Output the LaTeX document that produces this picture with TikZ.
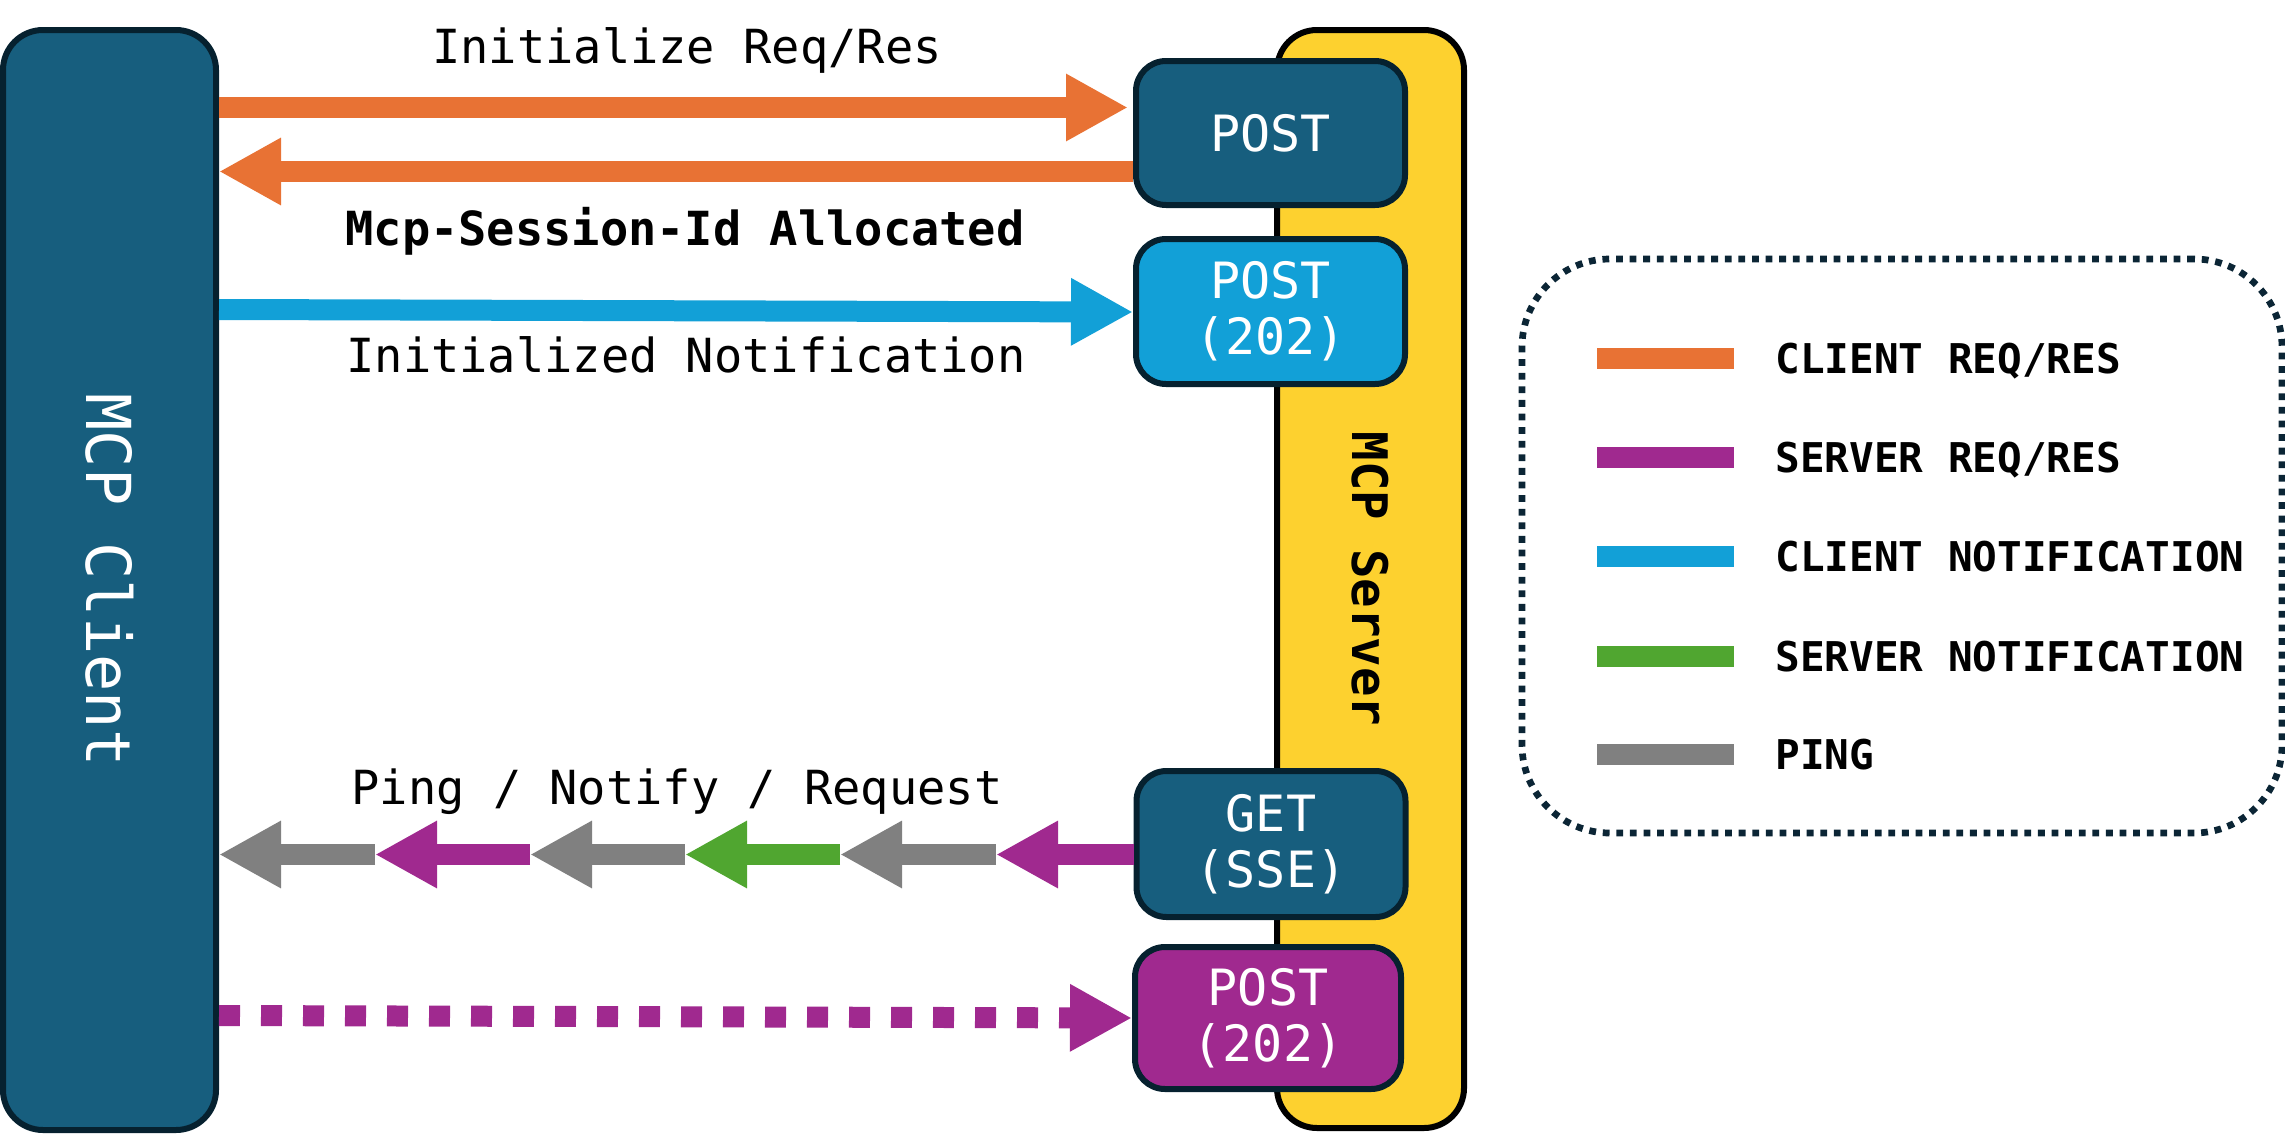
\documentclass[tikz,border=0pt]{standalone}
\usepackage{fontspec}
\newfontfamily\dmono{DejaVu Sans Mono}
\usetikzlibrary{arrows.meta}
\definecolor{cnavy}{HTML}{175E7E}
\definecolor{cdark}{HTML}{06212F}
\definecolor{corange}{HTML}{E87234}
\definecolor{cblue}{HTML}{12A0D7}
\definecolor{cpurple}{HTML}{A0298F}
\definecolor{cgreen}{HTML}{50A630}
\definecolor{cgray}{HTML}{808080}
\definecolor{cyellow}{HTML}{FDD12F}
\definecolor{cdot}{HTML}{0B2535}
\begin{document}
\begin{tikzpicture}[x=0.5pt,y=-0.5pt,
 lane/.style={draw=cdark, line width=3pt, rounded corners=20pt, inner sep=0pt},
 ep/.style={draw=cdark, line width=3pt, rounded corners=15pt, inner sep=0pt, minimum width=134.5pt, minimum height=72pt, text=white, font=\dmono\fontsize{25pt}{28pt}\selectfont, align=center},
 flow/.style={line width=10.5pt, -{Triangle[length=31pt,width=31.5pt]}},
 lbl/.style={font=\dmono\fontsize{23.5pt}{28pt}\selectfont, anchor=base, inner sep=0pt},
 lblb/.style={lbl, font=\dmono\bfseries\fontsize{23.5pt}{28pt}\selectfont},
 keybar/.style={line width=10.5pt},
 keytext/.style={font=\dmono\bfseries\fontsize{20.5pt}{24pt}\selectfont, anchor=base west, inner sep=0pt}]

\useasboundingbox (0,0) rectangle (2285,1135);

% lanes
\node[lane, fill=cnavy, minimum width=106.5pt, minimum height=550pt] (client) at (109.5,580) {};
\node[rotate=-90, text=white, font=\dmono\fontsize{31pt}{36pt}\selectfont] (clientlbl) at (client.center) {MCP Client};
\node[lane, draw=black, fill=cyellow, minimum width=93.5pt, minimum height=549pt] (server) at (1370.5,579) {};
\node[rotate=-90, font=\dmono\bfseries\fontsize{24.5pt}{28pt}\selectfont] (serverlbl) at (server.center) {MCP Server};

% endpoints
\node[ep, fill=cnavy] (post1) at (1270.5,133) {POST};
\node[ep, fill=cblue, minimum height=72.5pt] (post2) at (1270.5,311.5) {POST\\(202)};
\node[ep, fill=cnavy, minimum height=73pt] (get) at (1271,844) {GET\\(SSE)};
\node[ep, fill=cpurple, minimum width=133pt, minimum height=71pt] (post3) at (1268,1018) {POST\\(202)};

% levels
\coordinate (r1) at (0,107.5);
\coordinate (r2) at (0,171.5);
\coordinate (b1) at (0,309.5);
\coordinate (b2) at (0,312);
\coordinate (pg) at (0,854.5);
\coordinate (d1) at (0,1015.5);
\coordinate (d2) at (0,1018);
\coordinate (k1) at (375,854.5);
\coordinate (k2) at (530,854.5);
\coordinate (k3) at (685,854.5);
\coordinate (k4) at (840,854.5);
\coordinate (k5) at (996,854.5);

% arrows
\draw[flow, corange, shorten >=2.5pt] (client.east |- r1) -- (post1.west |- r1);
\draw[flow, corange] (post1.west |- r2) -- (client.east |- r2);
\draw[flow, cblue] (client.east |- b1) -- (post2.west |- b2);

\draw[flow, cpurple] (get.west |- pg) -- (k5);
\draw[flow, cgray] (k5) -- (k4);
\draw[flow, cgreen] (k4) -- (k3);
\draw[flow, cgray] (k3) -- (k2);
\draw[flow, cpurple] (k2) -- (k1);
\draw[flow, cgray] (k1) -- (client.east |- pg);

\draw[flow, cpurple, dash pattern=on 10.5pt off 10.5pt] (client.east |- d1) -- (post3.west |- d2);

% labels
\node[lbl] (l1) at (687,63) {Initialize Req/Res};
\node[lblb] (l2) at (685,245) {Mcp-Session-Id Allocated};
\node[lbl] (l3) at (686,372) {Initialized Notification};
\node[lbl] (l4) at (677,804) {Ping / Notify / Request};

% legend
\node[draw=cdot, line width=3.35pt, dash pattern=on 3.4pt off 3.4pt, rounded corners=44pt, minimum width=380pt, minimum height=287pt, inner sep=0pt] (legend) at (1902,546) {};
\draw[keybar, corange] (1597,358) -- (1734,358);
\draw[keybar, cpurple] (1597,457) -- (1734,457);
\draw[keybar, cblue] (1597,556) -- (1734,556);
\draw[keybar, cgreen] (1597,656) -- (1734,656);
\draw[keybar, cgray] (1597,754) -- (1734,754);
\node[keytext] (t1) at (1775,373) {CLIENT REQ/RES};
\node[keytext] (t2) at (1775,472) {SERVER REQ/RES};
\node[keytext] (t3) at (1775,571) {CLIENT NOTIFICATION};
\node[keytext] (t4) at (1775,671) {SERVER NOTIFICATION};
\node[keytext] (t5) at (1775,769) {PING};
\end{tikzpicture}
\end{document}
